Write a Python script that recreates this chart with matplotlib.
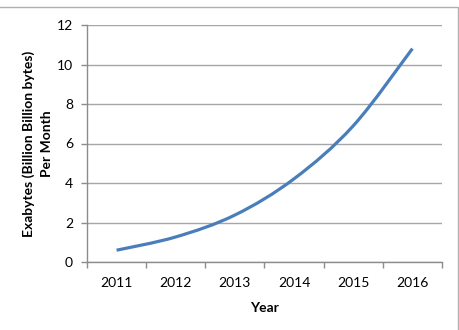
import matplotlib
matplotlib.use("Agg")
import matplotlib.pyplot as plt
from matplotlib.path import Path
from matplotlib.patches import PathPatch, Rectangle
import numpy as np

years = ["2011", "2012", "2013", "2014", "2015", "2016"]
exabytes = [0.597, 1.269, 2.379, 4.215, 6.896, 10.804]

plt.rcParams["font.family"] = ["Lato", "DejaVu Sans"]

fig = plt.figure(figsize=(4.6, 3.3), dpi=100)
ax = fig.add_axes([87 / 460, 1 - 262 / 330, (442 - 87) / 460, (262 - 25) / 330])

# smoothed line like Excel (Catmull-Rom -> cubic Bezier)
xs = np.arange(len(years), dtype=float)
ys = np.array(exabytes)
verts = [(xs[0], ys[0])]
codes = [Path.MOVETO]
n = len(xs)
for i in range(n - 1):
    p0 = (xs[max(i - 1, 0)], ys[max(i - 1, 0)])
    p1 = (xs[i], ys[i])
    p2 = (xs[i + 1], ys[i + 1])
    p3 = (xs[min(i + 2, n - 1)], ys[min(i + 2, n - 1)])
    c1 = (p1[0] + (p2[0] - p0[0]) / 6, p1[1] + (p2[1] - p0[1]) / 6)
    c2 = (p2[0] - (p3[0] - p1[0]) / 6, p2[1] - (p3[1] - p1[1]) / 6)
    verts += [c1, c2, p2]
    codes += [Path.CURVE4] * 3
ax.add_patch(PathPatch(Path(verts, codes), facecolor="none", edgecolor="#4a7ebb",
                       lw=2.3, capstyle="butt", zorder=3))

ax.set_xlim(-0.5, len(years) - 0.5)
ax.set_ylim(0, 12)
ax.set_yticks(range(0, 13, 2))
ax.yaxis.grid(True, color="#a6a6a6", lw=1)
ax.set_axisbelow(True)

ax.set_xticks(np.arange(-0.5, len(years), 1))
ax.set_xticklabels([])
ax.set_xticks(xs, minor=True)
ax.set_xticklabels(years, minor=True)
ax.tick_params(axis="x", which="major", length=4, color="#8c8c8c", width=1)
ax.tick_params(axis="x", which="minor", length=0, pad=11, labelsize=10)
ax.tick_params(axis="y", length=4, color="#8c8c8c", width=1, labelsize=10, pad=6)

for s in ["top", "right"]:
    ax.spines[s].set_visible(False)
for s in ["left", "bottom"]:
    ax.spines[s].set_color("#8c8c8c")
    ax.spines[s].set_linewidth(1)

ax.set_xlabel("Year", fontweight="bold", fontsize=10, labelpad=9)
ax.set_ylabel("Exabytes (Billion Billion bytes)\nPer Month", fontweight="bold",
              fontsize=10, labelpad=3, linespacing=1.6)

# outer chart border
fig.patches.append(Rectangle((-0.01, -0.01), 458 / 460 + 0.01, 1 - 7 / 330 + 0.01,
                             transform=fig.transFigure, fill=False,
                             edgecolor="#b0b0b0", lw=1))

fig.savefig("out.png", dpi=100)
